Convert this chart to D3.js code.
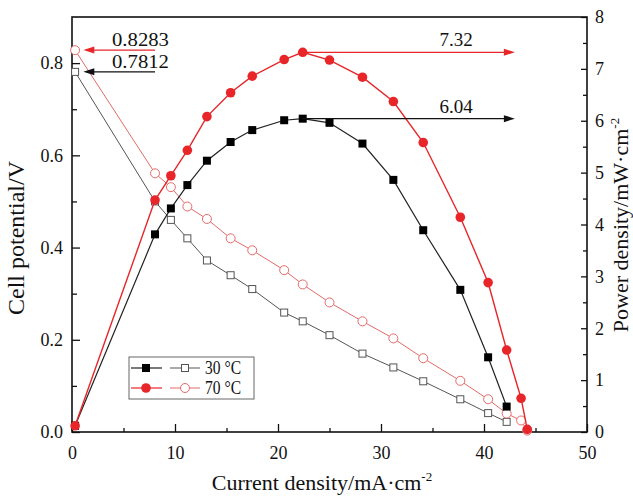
<!DOCTYPE html>
<html>
<head>
<meta charset="utf-8">
<script src="https://cdn.jsdelivr.net/npm/d3@7"></script>
<style>
  body { margin: 0; background: #fff; }
  svg text { font-family: "Liberation Serif", "DejaVu Serif", serif; fill: #111; }
</style>
</head>
<body>
<svg width="633" height="496"></svg>
<script>
// data
var current30 = [0.3, 8.06, 9.6, 11.2, 13.1, 15.4, 17.5, 20.6, 22.4, 25.0, 28.2, 31.2, 34.1, 37.7, 40.4, 42.2];
var volt30    = [0.781, 0.50, 0.46, 0.42, 0.372, 0.34, 0.31, 0.259, 0.24, 0.21, 0.17, 0.14, 0.11, 0.071, 0.041, 0.022];
var power30   = [0.12, 3.81, 4.31, 4.76, 5.23, 5.59, 5.82, 6.01, 6.04, 5.96, 5.56, 4.86, 3.89, 2.74, 1.44, 0.49];

var current70 = [0.3, 8.06, 9.6, 11.2, 13.1, 15.4, 17.5, 20.6, 22.4, 25.0, 28.2, 31.2, 34.1, 37.7, 40.4, 42.2, 43.6, 44.2];
var volt70    = [0.828, 0.561, 0.531, 0.489, 0.462, 0.42, 0.394, 0.351, 0.32, 0.281, 0.24, 0.203, 0.16, 0.111, 0.071, 0.04, 0.025, 0.003];
var power70   = [0.12, 4.47, 4.94, 5.43, 6.08, 6.54, 6.86, 7.18, 7.32, 7.17, 6.84, 6.37, 5.58, 4.14, 2.88, 1.58, 0.65, 0.05];

var xTicks = [0, 10, 20, 30, 40, 50];
var vTicks = [0, 0.2, 0.4, 0.6, 0.8];
var pTicks = [0, 1, 2, 3, 4, 5, 6, 7, 8];

// annotations: value, arrow from -> to (current), label position
var vNotes = [
  {label: "0.8283", v: 0.8283, from: 8.06, to: 1.1, tx: 6.65, color: "#e8262a"},
  {label: "0.7812", v: 0.7812, from: 8.06, to: 1.1, tx: 6.65, color: "#111"}
];
var pNotes = [
  {label: "7.32", p: 7.32, from: 22.4, to: 43.0, tx: 37.3, color: "#e8262a"},
  {label: "6.04", p: 6.04, from: 22.4, to: 43.0, tx: 37.3, color: "#111"}
];

var svg = d3.select("svg"),
    margin = {top: 17, right: 46, bottom: 64, left: 72},
    width = +svg.attr("width") - margin.left - margin.right,
    height = +svg.attr("height") - margin.top - margin.bottom;

var x = d3.scaleLinear().domain([0, 50]).range([0, width]),
    yV = d3.scaleLinear().domain([0, 0.9]).range([height, 0]),
    yP = d3.scaleLinear().domain([0, 8]).range([height, 0]);

var g = svg.append("g")
    .attr("transform", "translate(" + margin.left + "," + margin.top + ")");

// minor ticks
g.append("g").attr("transform", "translate(0," + height + ")")
  .call(d3.axisBottom(x).tickValues(d3.range(5, 50, 10)).tickSize(-4).tickFormat(""));
g.append("g")
  .call(d3.axisLeft(yV).tickValues(d3.range(0.1, 0.9, 0.2)).tickSize(-5).tickFormat(""));
g.append("g").attr("transform", "translate(" + width + ",0)")
  .call(d3.axisRight(yP).tickValues(d3.range(0.5, 8, 1)).tickSize(-4).tickFormat(""));

// major axes
g.append("g").attr("transform", "translate(0," + height + ")")
  .call(d3.axisBottom(x).tickValues(xTicks).tickSize(-8).tickPadding(14).tickFormat(d3.format("d")));
g.append("g")
  .call(d3.axisLeft(yV).tickValues(vTicks).tickSize(-8).tickPadding(9).tickFormat(d3.format(".1f")));
g.append("g").attr("transform", "translate(" + width + ",0)")
  .call(d3.axisRight(yP).tickValues(pTicks).tickSize(-6).tickPadding(8).tickFormat(d3.format("d")));

g.selectAll(".domain").remove();
g.selectAll(".tick line").attr("stroke", "#111").attr("stroke-width", 1.3);
g.selectAll(".tick text")
  .attr("font-family", "Liberation Serif, serif")
  .style("font-family", "'Liberation Serif', serif")
  .attr("font-size", 18).style("font-size", "18px").attr("fill", "#111");
g.selectAll("g").attr("font-family", null).attr("font-size", null);

// frame
g.append("rect").attr("width", width).attr("height", height)
  .attr("fill", "none").attr("stroke", "#111").attr("stroke-width", 1.6);

function pts(xs, ys) { return xs.map(function(d, i) { return [d, ys[i]]; }); }

var lineV = d3.line().x(function(d) { return x(d[0]); }).y(function(d) { return yV(d[1]); });
var lineP = d3.line().x(function(d) { return x(d[0]); }).y(function(d) { return yP(d[1]); });

var d30v = pts(current30, volt30), d70v = pts(current70, volt70),
    d30p = pts(current30, power30), d70p = pts(current70, power70);

// polarization curves (open symbols)
g.append("path").datum(d30v).attr("d", lineV).attr("fill", "none").attr("stroke", "#555").attr("stroke-width", 1);
g.selectAll(".sq30").data(d30v).enter().append("rect")
  .attr("x", function(d) { return x(d[0]) - 3.5; }).attr("y", function(d) { return yV(d[1]) - 3.5; })
  .attr("width", 7).attr("height", 7).attr("fill", "#fff").attr("stroke", "#555").attr("stroke-width", 1);

g.append("path").datum(d70v).attr("d", lineV).attr("fill", "none").attr("stroke", "#e46a6a").attr("stroke-width", 1);
g.selectAll(".ci70").data(d70v).enter().append("circle")
  .attr("cx", function(d) { return x(d[0]); }).attr("cy", function(d) { return yV(d[1]); })
  .attr("r", 4.5).attr("fill", "#fff").attr("stroke", "#e46a6a").attr("stroke-width", 1);

// power curves (filled symbols)
g.append("path").datum(d30p).attr("d", lineP).attr("fill", "none").attr("stroke", "#222").attr("stroke-width", 1.2);
g.selectAll(".fsq30").data(d30p).enter().append("rect")
  .attr("x", function(d) { return x(d[0]) - 4; }).attr("y", function(d) { return yP(d[1]) - 4; })
  .attr("width", 8).attr("height", 8).attr("fill", "#000");

g.append("path").datum(d70p).attr("d", lineP).attr("fill", "none").attr("stroke", "#e8262a").attr("stroke-width", 1.4);
g.selectAll(".fci70").data(d70p).enter().append("circle")
  .attr("cx", function(d) { return x(d[0]); }).attr("cy", function(d) { return yP(d[1]); })
  .attr("r", 4.8).attr("fill", "#e8262a");

// arrows
function arrow(x1, x2, yy, color) {
  var dir = x2 > x1 ? 1 : -1;
  g.append("line").attr("x1", x1).attr("x2", x2 - dir * 8).attr("y1", yy).attr("y2", yy)
    .attr("stroke", color).attr("stroke-width", 1.3);
  g.append("path")
    .attr("d", "M" + x2 + "," + yy + "L" + (x2 - dir * 11) + "," + (yy - 3.5) + "L" + (x2 - dir * 11) + "," + (yy + 3.5) + "Z")
    .attr("fill", color);
}
vNotes.forEach(function(n) {
  arrow(x(n.from), x(n.to), yV(n.v), n.color);
  g.append("text").attr("x", x(n.tx)).attr("y", yV(n.v) - 4).attr("text-anchor", "middle")
    .attr("textLength", 57).attr("lengthAdjust", "spacingAndGlyphs")
    .style("font-size", "19px").text(n.label);
});
pNotes.forEach(function(n) {
  arrow(x(n.from), x(n.to), yP(n.p), n.color);
  g.append("text").attr("x", x(n.tx)).attr("y", yP(n.p) - 6).attr("text-anchor", "middle")
    .style("font-size", "19px").text(n.label);
});

// legend
var leg = svg.append("g").attr("transform", "translate(129,357)");
leg.append("rect").attr("width", 125).attr("height", 42).attr("fill", "#fff").attr("stroke", "#666").attr("stroke-width", 1);
var rows = [
  {label: "30 °C", fill: "#000", line: "#222", open: "#555", shape: "sq"},
  {label: "70 °C", fill: "#e8262a", line: "#e8262a", open: "#e46a6a", shape: "ci"}
];
rows.forEach(function(r, i) {
  var yy = 11 + i * 20;
  leg.append("line").attr("x1", 2).attr("x2", 33).attr("y1", yy).attr("y2", yy).attr("stroke", r.line).attr("stroke-width", 1.2);
  leg.append("line").attr("x1", 41).attr("x2", 71).attr("y1", yy).attr("y2", yy).attr("stroke", r.open).attr("stroke-width", 1);
  if (r.shape === "sq") {
    leg.append("rect").attr("x", 13).attr("y", yy - 4).attr("width", 8).attr("height", 8).attr("fill", r.fill);
    leg.append("rect").attr("x", 52.5).attr("y", yy - 3.5).attr("width", 7).attr("height", 7).attr("fill", "#fff").attr("stroke", r.open);
  } else {
    leg.append("circle").attr("cx", 17).attr("cy", yy).attr("r", 4.8).attr("fill", r.fill);
    leg.append("circle").attr("cx", 56).attr("cy", yy).attr("r", 4.5).attr("fill", "#fff").attr("stroke", r.open);
  }
  leg.append("text").attr("x", 76).attr("y", yy + 6).attr("textLength", 36).attr("lengthAdjust", "spacingAndGlyphs")
    .style("font-size", "18px").text(r.label);
});

// axis titles
var xt = svg.append("text").attr("x", 322).attr("y", 490).attr("text-anchor", "middle").style("font-size", "22px");
xt.append("tspan").text("Current density/mA·cm");
xt.append("tspan").attr("dy", -9).style("font-size", "13px").text("-2");

svg.append("text").attr("transform", "translate(24,238) rotate(-90)").attr("text-anchor", "middle")
  .style("font-size", "24px").text("Cell potential/V");

var pt = svg.append("text").attr("transform", "translate(628,225) rotate(-90)").attr("text-anchor", "middle").style("font-size", "22px");
pt.append("tspan").text("Power density/mW·cm");
pt.append("tspan").attr("dy", -9).style("font-size", "13px").text("-2");
</script>
</body>
</html>
